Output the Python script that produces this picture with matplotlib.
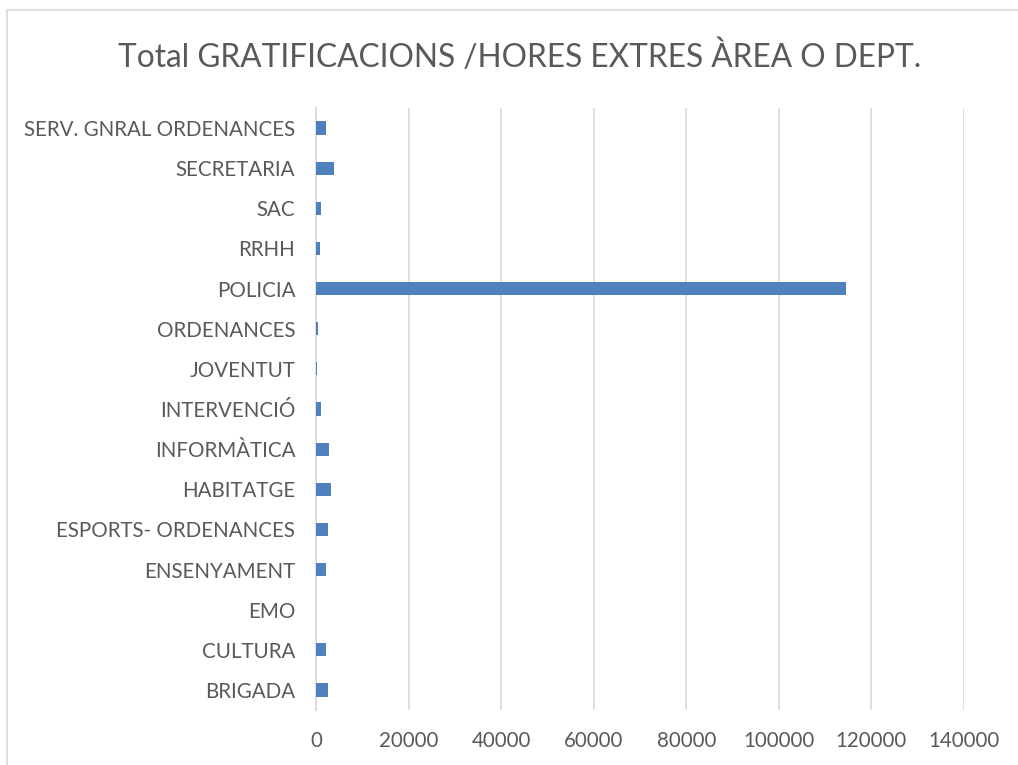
import matplotlib
matplotlib.use("Agg")
import matplotlib.pyplot as plt
from matplotlib.patches import Rectangle

categories = ["BRIGADA", "CULTURA", "EMO", "ENSENYAMENT", "ESPORTS- ORDENANCES",
              "HABITATGE", "INFORMÀTICA", "INTERVENCIÓ", "JOVENTUT", "ORDENANCES",
              "POLICIA", "RRHH", "SAC", "SECRETARIA", "SERV. GNRAL ORDENANCES"]
values = [2600, 2100, 0, 2250, 2600, 3180, 2750, 1170, 300, 520,
          114600, 800, 1170, 3830, 2250]
xticks = [0, 20000, 40000, 60000, 80000, 100000, 120000, 140000]
title = "Total GRATIFICACIONS /HORES EXTRES ÀREA O DEPT."

W, H = 1018, 765
fig = plt.figure(figsize=(W / 100, H / 100), dpi=100)
plt.rcParams['font.family'] = ['Lato', 'DejaVu Sans']

# chart border
fig.patches.append(Rectangle((7 / W, -0.05), 1.2, (H - 10) / H + 0.05,
                             transform=fig.transFigure, fill=False,
                             edgecolor='#D9D9D9', linewidth=1.2))

left, right, top, bottom = 316, 964, 108, 710
ax = fig.add_axes([left / W, 1 - bottom / H, (right - left) / W, (bottom - top) / H])

text_color = '#595959'
ax.barh(range(len(categories)), values, height=0.33, color='#4F81BD', zorder=3)
ax.set_ylim(-0.5, len(categories) - 0.5)
ax.set_xlim(0, 140000)
ax.set_xticks(xticks)
ax.set_xticklabels([str(t) for t in xticks])
ax.set_yticks(range(len(categories)))
ax.set_yticklabels(categories)
ax.tick_params(axis='both', length=0, labelsize=14.8, colors=text_color)
ax.tick_params(axis='x', pad=15)
ax.tick_params(axis='y', pad=15)
ax.grid(axis='x', color='#D9D9D9', linewidth=1.2, zorder=0)
for s in ['top', 'right', 'bottom']:
    ax.spines[s].set_visible(False)
ax.spines['left'].set_color('#D9D9D9')
ax.spines['left'].set_linewidth(1.2)

fig.text(520 / W, 1 - 57 / H, title, ha='center', va='center',
         fontsize=22.8, color=text_color, fontweight='normal')

fig.savefig("out.png", dpi=100)
